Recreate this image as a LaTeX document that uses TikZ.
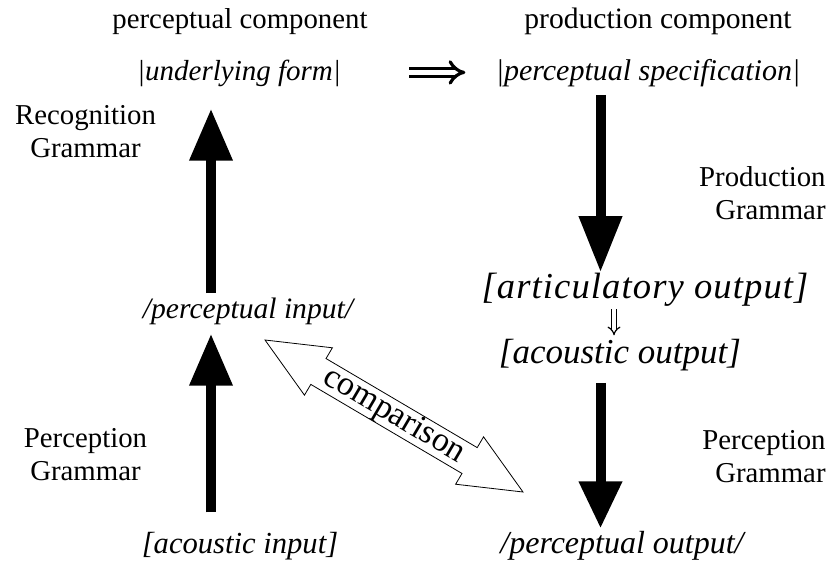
\documentclass[tikz,border=0pt]{standalone}
\usepackage{fontspec}
\setmainfont{Liberation Serif}
\usetikzlibrary{arrows.meta,calc}

\begin{document}
\begin{tikzpicture}[x=0.5pt,y=-0.5pt,
    txt/.style={inner sep=0pt,anchor=base,font=\fontsize{14.4}{16.5}\selectfont},
    itl/.style={inner sep=0pt,anchor=base,font=\fontsize{#1}{18}\selectfont\itshape},
    itl/.default=15.5,
    grm/.style={inner sep=0pt,anchor=north,font=\fontsize{14.4}{16.5}\selectfont},
    fatarrow/.style={line width=5pt,-{Triangle[length=#1,width=20.5pt]}},
    fatarrow/.default=26pt]
    \useasboundingbox (0,0) rectangle (830,563);

    \coordinate (lx) at (211,0);
    \coordinate (rx) at (600.5,0);
    \coordinate (dx) at (614,0);

    % column heads
    \draw (240,28) node[txt] (pcomp) {perceptual component};
    \draw (658,28) node[txt,font=\fontsize{14.8}{16.5}\selectfont] (prcomp) {production component};

    % forms
    \draw (239,80) node[itl=14.5] (ulform) {|underlying form|};
    \draw (648,80) node[itl=15] (pspec) {|perceptual specification|};
    \draw (645,298) node[itl=18.3] (artout) {\addfontfeature{LetterSpace=3}[articulatory output]};
    \draw (620,363) node[itl=17.5] (acout) {[acoustic output]};
    \draw (248,318) node[itl=14.8] (pinput) {/perceptual input/};
    \draw (240,553) node[itl=15.3] (acin) {[acoustic input]};
    \draw (622,553) node[itl=16] (poutput) {/perceptual output/};

    % grammars
    \draw (85.5,105) node[grm,align=center] (recgr) {Recognition\\Grammar};
    \draw (826,166) node[grm,anchor=north east,align=right] (prodgr) {Production\\Grammar};
    \draw (85.5,428) node[grm,align=center] (percgrl) {Perception\\Grammar};
    \draw (826,430) node[grm,anchor=north east,align=right] (percgrr) {Perception\\Grammar};

    % fat arrows
    \draw[fatarrow, shorten <=2pt, shorten >=11pt] (pinput.north -| lx) -- (ulform.south -| lx);
    \draw[fatarrow, shorten <=9.5pt, shorten >=4.5pt] (acin.north -| lx) -- (pinput.south -| lx);
    \draw[fatarrow=28pt, shorten <=4pt] (pspec.south -| rx) -- (artout.north -| rx);
    \draw[fatarrow=23.5pt, shorten <=6pt, shorten >=1pt] (acout.south -| rx) -- (poutput.north -| rx);

    % small implications
    \draw[double, line width=1.6pt, double distance=2.4pt, -{Implies}]
        ([xshift=34pt,yshift=1.5pt]ulform.mid east) -- ([xshift=-15pt,yshift=1.5pt]pspec.mid west);
    \draw[double, line width=0.6pt, double distance=1.6pt, -{Implies}, shorten <=1.5pt, shorten >=1.5pt]
        (artout.south -| dx) -- (acout.north -| dx);

    % comparison
    \coordinate (cmpa) at (265,340);
    \coordinate (cmpb) at (523,492);
    \coordinate (cmpc) at ($(cmpa)!31pt!(cmpb)$);
    \coordinate (cmpd) at ($(cmpb)!31pt!(cmpa)$);
    \draw[fill=white] (cmpa) -- ($(cmpc)!13.75pt!90:(cmpb)$) -- ($(cmpc)!7.5pt!90:(cmpb)$)
        -- ($(cmpd)!7.5pt!90:(cmpb)$) -- ($(cmpd)!13.75pt!90:(cmpb)$) -- (cmpb)
        -- ($(cmpd)!13.75pt!-90:(cmpb)$) -- ($(cmpd)!7.5pt!-90:(cmpb)$)
        -- ($(cmpc)!7.5pt!-90:(cmpb)$) -- ($(cmpc)!13.75pt!-90:(cmpb)$) -- cycle;
    \path (cmpa) -- (cmpb) node[midway, sloped, inner sep=0pt, font=\fontsize{17}{18}\selectfont] (cmptxt) {comparison};
\end{tikzpicture}
\end{document}
